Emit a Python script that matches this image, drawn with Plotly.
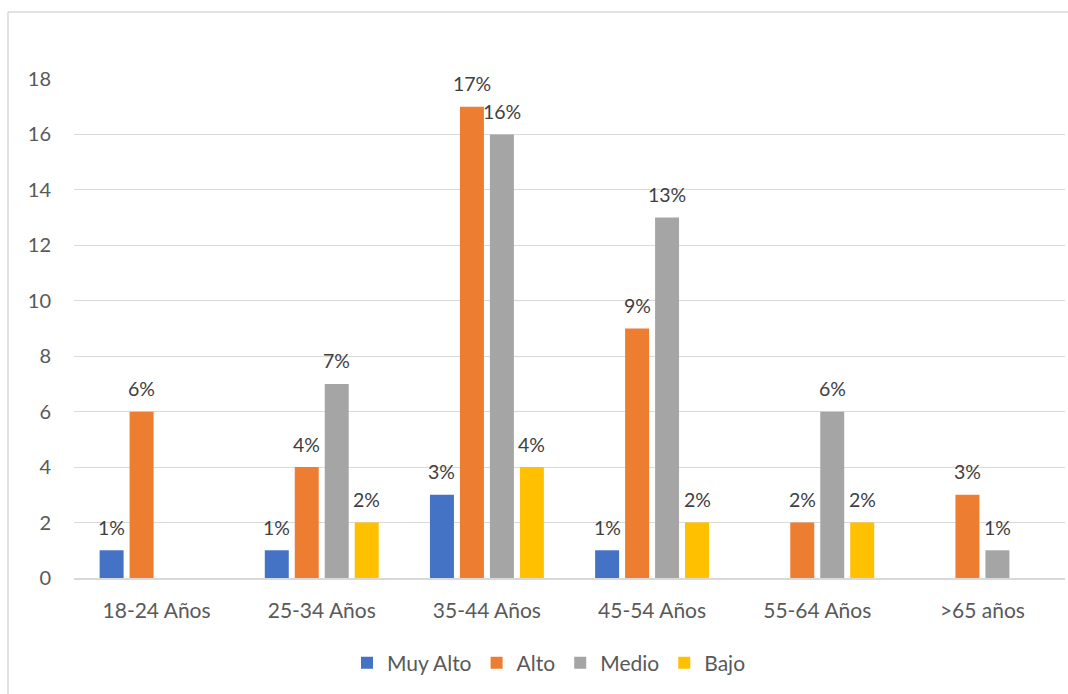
import plotly.graph_objects as go

categories = ["18-24 Años", "25-34 Años", "35-44 Años", "45-54 Años", "55-64 Años", ">65 años"]
series_names = ["Muy Alto", "Alto", "Medio", "Bajo"]
muy_alto = [1, 1, 3, 1, None, None]
alto = [6, 4, 17, 9, 2, 3]
medio = [None, 7, 16, 13, 6, 1]
bajo = [None, 2, 4, 2, 2, None]
colors = ["#4472C4", "#ED7D31", "#A5A5A5", "#FFC000"]
y_ticks = [0, 2, 4, 6, 8, 10, 12, 14, 16, 18]

FONT = "Lato"
all_series = [muy_alto, alto, medio, bajo]

fig = go.Figure()
for name, vals, col in zip(series_names, all_series, colors):
    fig.add_trace(go.Bar(x=categories, y=vals, name=name, marker_color=col,
                         marker_line_width=0, hoverinfo="x+y+name"))

# data labels
offsets = [-45, -15, 15, 45]
for vals, off in zip(all_series, offsets):
    for c, v in zip(categories, vals):
        if v is None:
            continue
        fig.add_annotation(x=c, y=v, xref="x", yref="y", text=f"{v}%", showarrow=False,
                           xshift=off, yshift=23, yanchor="middle",
                           font=dict(family=FONT, size=19.5, color="#404040"))

W, H = 1068, 694
L, T = 74, 79
pw, ph = 991, 499
R = W - L - pw
B = H - T - ph

# chart border: left & top edges visible (right/bottom lie at the canvas edge)
bx0 = (8 - L) / pw
by1 = (T + ph - 12) / ph
xr = 1 + R / pw
yb = -B / ph
border = dict(color="#D9D9D9", width=1.5)
fig.add_shape(type="line", xref="paper", yref="paper", x0=bx0, x1=xr, y0=by1, y1=by1,
              line=border, layer="below")
fig.add_shape(type="line", xref="paper", yref="paper", x0=bx0, x1=bx0, y0=yb, y1=by1,
              line=border, layer="below")

fig.update_layout(
    width=W, height=H,
    margin=dict(l=L, r=R, t=T, b=B, pad=0),
    paper_bgcolor="white", plot_bgcolor="white",
    barmode="group", bargap=0.274, bargroupgap=0.2,
    font=dict(family=FONT, size=21, color="#595959"),
    showlegend=True,
    legend=dict(orientation="h", x=(549 - L) / pw, xanchor="center", y=(T + ph - 663) / ph,
                yanchor="middle", font=dict(family=FONT, size=21, color="#595959"), itemwidth=30,
                traceorder="normal", itemclick=False),
    xaxis=dict(showgrid=False, showline=True, linecolor="#D9D9D9", linewidth=1.5,
               ticks="", ticklabelstandoff=13, tickfont=dict(size=21, color="#595959")),
    yaxis=dict(range=[0, 18], tickvals=y_ticks, showgrid=True, gridcolor="#D9D9D9", gridwidth=1.3,
               zeroline=False, showline=False, ticks="", ticklabelstandoff=22,
               tickfont=dict(size=20, color="#595959")),
)

fig.write_html("out.html", config={"displayModeBar": False},
               post_script="document.body.style.margin='0';document.body.style.overflow='hidden';")
